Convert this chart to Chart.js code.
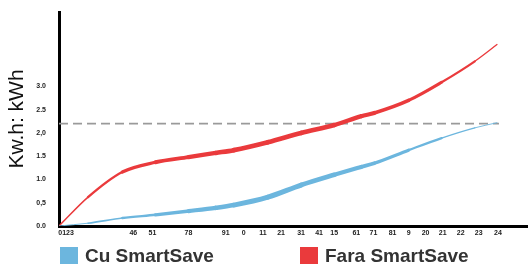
<!DOCTYPE html>
<html>
<head>
<meta charset="utf-8">
<script src="https://cdn.jsdelivr.net/npm/chart.js@4"></script>
<style>
  html, body { margin: 0; padding: 0; background: #fff; }
  #wrap { position: relative; width: 528px; height: 264px; overflow: hidden; }
  #c { position: absolute; left: 0; top: 0; }
  .lg { position: absolute; top: 246px; height: 20px; display: flex; align-items: center;
        font-family: "Liberation Sans", Arial, sans-serif; font-weight: bold; font-size: 19px; color: #333; white-space: nowrap; }
  .lg span.box { display: inline-block; width: 18px; height: 18px; margin-right: 7px; }
</style>
</head>
<body>
<div id="wrap">
  <canvas id="c" width="528" height="264"></canvas>
  <div class="lg" id="lg0" style="left:60px"></div>
  <div class="lg" id="lg1" style="left:300px"></div>
</div>
<script>
// ---- data ----
const seriesNames = ["Cu SmartSave", "Fara SmartSave"];
const seriesColors = ["#6cb6de", "#ea3a3c"];
const cuX   = [0, 1.61, 3.51, 5.35, 7.18, 8.69, 9.69, 11.58, 13.42, 15.26, 16.76, 17.48, 19.38, 21.21, 23.05, 24.28];
const cuY   = [0, 0.06, 0.17, 0.24, 0.32, 0.39, 0.45, 0.62, 0.88, 1.10, 1.27, 1.35, 1.63, 1.89, 2.11, 2.22];
const faraX = [0, 1.61, 3.51, 5.35, 7.18, 8.69, 9.69, 11.58, 13.42, 15.26, 16.76, 17.48, 19.38, 21.21, 23.05, 24.28];
const faraY = [0, 0.62, 1.16, 1.37, 1.48, 1.57, 1.63, 1.80, 2.00, 2.17, 2.36, 2.43, 2.70, 3.09, 3.54, 3.90];
const refX = [0, 24.39];
const refY = [2.2, 2.2];
const xTickValues = [0.39, 4.12, 5.18, 7.18, 9.24, 10.24, 11.30, 12.31, 13.42, 14.42, 15.26, 16.48, 17.43, 18.49, 19.38, 20.32, 21.27, 22.27, 23.27, 24.33];
const xTickLabels = ["0123", "46", "51", "78", "91", "0", "11", "21", "31", "41", "15", "61", "71", "81", "9", "20", "21", "22", "23", "24"];
const yTickValues = [0, 0.5, 1, 1.5, 2, 2.5, 3];
const yTickLabels = ["0.0", "0,5", "1.0", "1.5", "2,0", "2.5", "3.0"];
const yTitle = "Kw.h: kWh";

const toPts = (xs, ys) => xs.map((x, i) => ({ x: x, y: ys[i] }));
const XEND = 24.28;
function taper(ctx, maxW, power) {
  const t = ((ctx.p0.parsed.x + ctx.p1.parsed.x) / 2) / XEND;
  return 0.8 + maxW * Math.pow(Math.max(0, Math.sin(Math.PI * t)), power);
}

// legend (HTML text)
seriesNames.forEach((n, i) => {
  const el = document.getElementById('lg' + i);
  el.innerHTML = '<span class="box" style="background:' + seriesColors[i] + '"></span>' + n;
});

new Chart(document.getElementById('c'), {
  type: 'line',
  data: {
    datasets: [
      {
        label: seriesNames[0], data: toPts(cuX, cuY), borderColor: seriesColors[0], backgroundColor: seriesColors[0],
        pointRadius: 0, cubicInterpolationMode: 'monotone', borderCapStyle: 'round', borderJoinStyle: 'round', order: 1,
        segment: { borderWidth: ctx => taper(ctx, 4.2, 1.5) }
      },
      {
        label: seriesNames[1], data: toPts(faraX, faraY), borderColor: seriesColors[1], backgroundColor: seriesColors[1],
        pointRadius: 0, cubicInterpolationMode: 'monotone', borderCapStyle: 'round', borderJoinStyle: 'round', order: 2,
        segment: { borderWidth: ctx => taper(ctx, 4.0, 0.8) }
      },
      {
        label: 'ref', data: toPts(refX, refY), borderColor: '#9a9a9a', borderWidth: 1.6, borderDash: [9, 5],
        pointRadius: 0, order: 3
      }
    ]
  },
  options: {
    responsive: false,
    animation: false,
    events: [],
    layout: { padding: { top: 12, right: 0, bottom: 26, left: 0 } },
    plugins: { legend: { display: false }, tooltip: { enabled: false } },
    scales: {
      x: {
        type: 'linear', min: 0, max: 26,
        grid: { display: false, drawTicks: false },
        border: { display: true, color: '#000', width: 3 },
        afterBuildTicks: s => { s.ticks = xTickValues.map(v => ({ value: v })); },
        afterFit: s => { s.height = 12; s.paddingLeft = 0; s.paddingRight = 0; },
        ticks: {
          autoSkip: false, maxRotation: 0, minRotation: 0, padding: 3, color: '#222',
          font: { family: '"Liberation Sans", Arial, sans-serif', size: 7, weight: 'bold' },
          callback: (v, i) => xTickLabels[i]
        }
      },
      y: {
        type: 'linear', min: 0, max: 4.6,
        grid: { display: false, drawTicks: false },
        border: { display: true, color: '#000', width: 3 },
        afterBuildTicks: s => { s.ticks = yTickValues.map(v => ({ value: v })); },
        afterFit: s => { s.width = 59; s.paddingTop = 0; s.paddingBottom = 0; },
        title: {
          display: true, text: yTitle, color: '#111', padding: { top: 5, bottom: 0 },
          font: { family: '"Liberation Sans", Arial, sans-serif', size: 21, weight: 'normal' }
        },
        ticks: {
          padding: 13, color: '#222',
          font: { family: '"Liberation Sans", Arial, sans-serif', size: 7, weight: 'bold' },
          callback: (v, i) => yTickLabels[i]
        }
      }
    }
  }
});
</script>
</body>
</html>
